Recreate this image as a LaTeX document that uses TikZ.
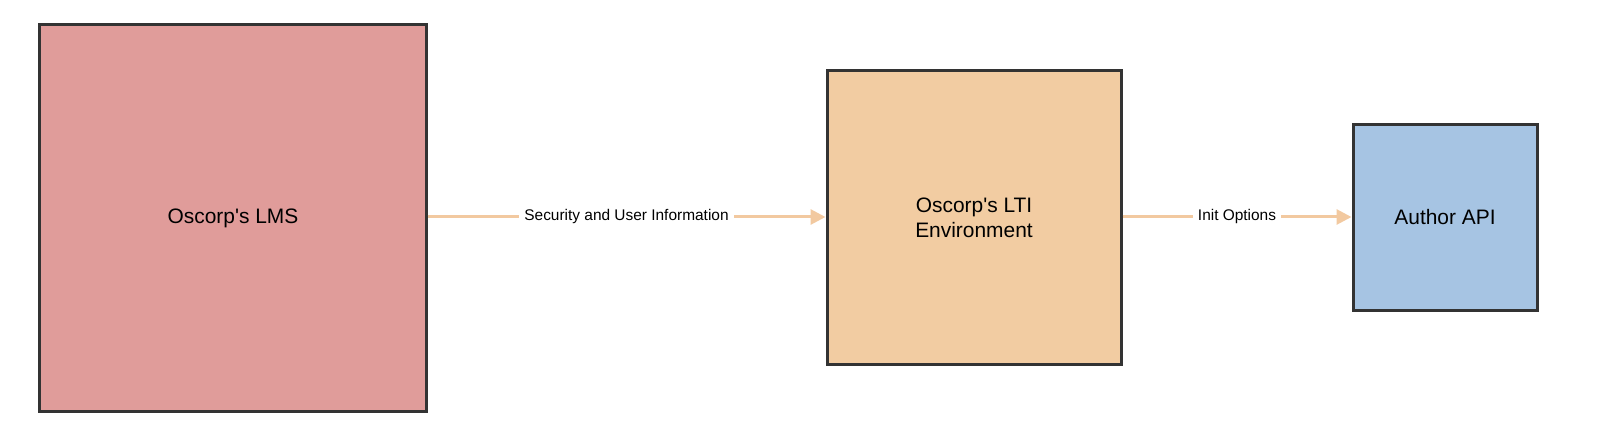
\documentclass[tikz,border=0pt]{standalone}
\usepackage{fontspec}
\setmainfont{Liberation Sans}
\usetikzlibrary{arrows.meta}
\definecolor{lms}{HTML}{E09C9A}
\definecolor{lti}{HTML}{F2CCA2}
\definecolor{api}{HTML}{A6C4E3}
\definecolor{edge}{HTML}{333333}
\definecolor{arr}{HTML}{F2C9A0}
\begin{document}
\begin{tikzpicture}[x=1bp,y=-1bp,
  box/.style={draw=edge,line width=3bp,inner sep=0pt,align=center,font=\fontsize{21}{25}\selectfont},
  conn/.style={draw=arr,line width=3bp,-{Triangle[length=15bp,width=15bp]}},
  lab/.style={fill=white,font=\fontsize{15.5}{18}\selectfont,inner sep=5bp}]
\path[use as bounding box] (0,0) rectangle (1600,439);
\node[box,fill=lms,minimum width=386bp,minimum height=386bp] (lms) at (233,218) {Oscorp\textquotesingle s LMS};
\node[box,fill=lti,minimum width=294bp,minimum height=293bp] (lti) at (974,217.5) {Oscorp\textquotesingle s LTI\\Environment};
\node[box,fill=api,minimum width=184bp,minimum height=185bp] (api) at (1445,217.5) {Author API};
\draw[conn] (lms.east |- 0,217) -- node[lab]{Security and User Information} (lti.west |- 0,217);
\draw[conn] (lti.east |- 0,217) -- node[lab]{Init Options} (api.west |- 0,217);
\end{tikzpicture}
\end{document}
